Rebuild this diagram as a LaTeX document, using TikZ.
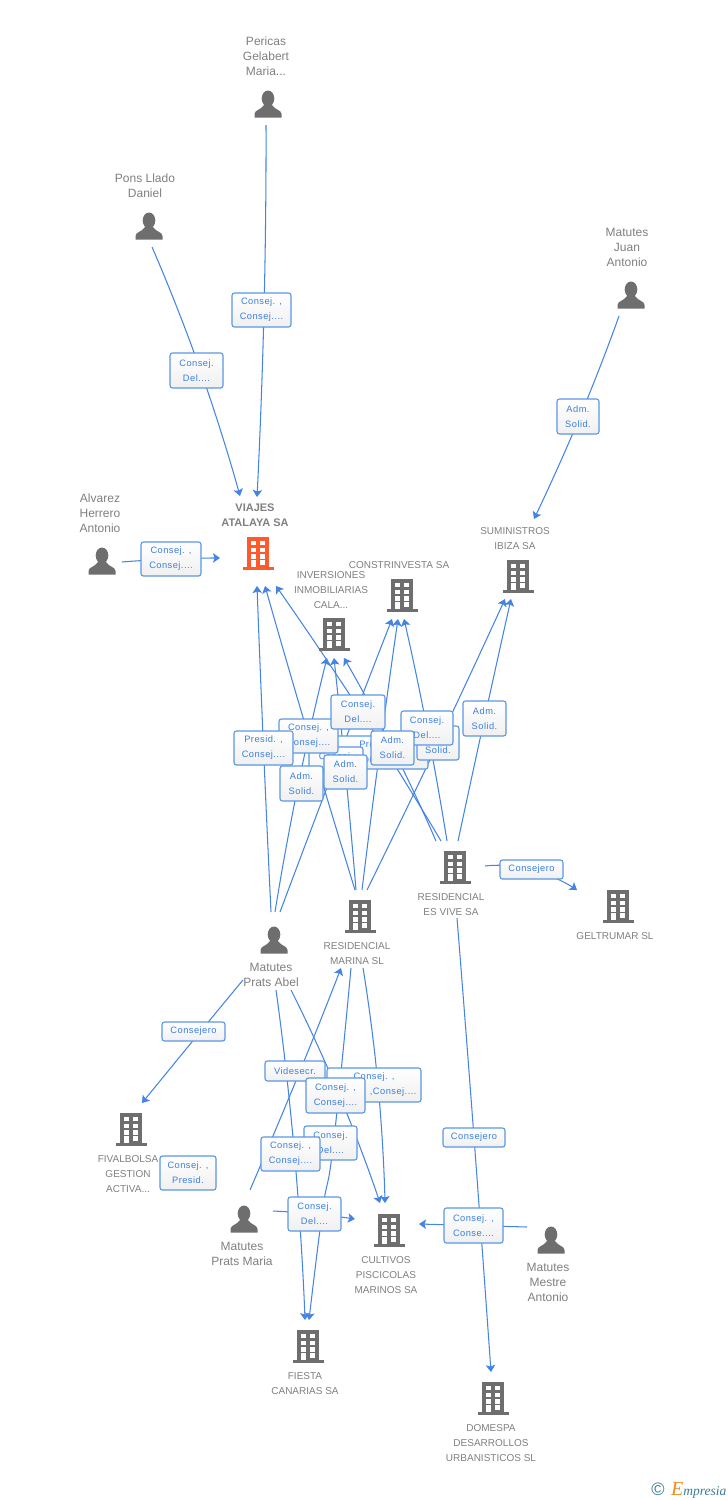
\documentclass[tikz,border=0pt]{standalone}
\usepackage{fontspec}
\setmainfont{Liberation Sans}
\newfontfamily\edgefont[LetterSpace=5]{Liberation Sans}
\newfontfamily\logofont{Liberation Serif}
\usetikzlibrary{arrows.meta,calc}
\pgfdeclarelayer{edges}
\pgfsetlayers{edges,main}
\definecolor{iconGray}{HTML}{6E6E6E}
\definecolor{textGray}{HTML}{808080}
\definecolor{edgeBlue}{HTML}{4485E4}
\definecolor{boxBlue}{HTML}{5C97E4}
\definecolor{labelBlue}{HTML}{3B7FE0}
\definecolor{accent}{HTML}{FF5A2B}
\definecolor{logoTeal}{HTML}{3A7C98}
\definecolor{logoOrange}{HTML}{F08A1E}
\tikzset{
  x=1pt,y=-1pt,
  pics/bldg/.style={code={
    \fill[#1] (-11,-16.5) rectangle (11,14.5);
    \fill[#1] (-15.5,14) rectangle (15.5,16.5);
    \foreach \yy/\hh in {-12.5/4.5,-5.5/4.5,1/4.5}{
      \fill[white] (-7,\yy) rectangle ++(5,\hh);
      \fill[white] (2,\yy) rectangle ++(5,\hh);
    }
    \fill[white] (-7,7) rectangle (-2,14);
    \fill[white] (2,7) rectangle (7,11.5);
  }},
  pics/bldg/.default=iconGray,
  pics/prsn/.style={code={
    \fill[iconGray] (0,-5.5) ellipse (6.3 and 8);
    \fill[iconGray] (-13.5,13.5) -- (-13.5,10) .. controls (-13.5,6) and (-7,6) .. (-4,1)
      -- (4,1) .. controls (7,6) and (13.5,6) .. (13.5,10) -- (13.5,13.5) -- cycle;
  }},
  namelbl/.style={text=textGray,font=\fontsize{12}{15}\selectfont,align=center,inner sep=0pt,anchor=north,yshift=-3.5pt},
  firmlbl/.style={text=textGray,font=\fontsize{10}{15}\selectfont,align=center,inner sep=0pt,anchor=north,yshift=-5pt},
  mainlbl/.style={text=textGray,font=\fontsize{11}{15}\selectfont\bfseries,align=center,inner sep=0pt,anchor=north,yshift=-4pt},
  rolebox/.style={draw=boxBlue,line width=1.1pt,rounded corners=2.5pt,top color=white,bottom color=black!6,
    text=labelBlue,font=\edgefont\fontsize{9.3}{15}\selectfont,align=center,inner sep=0pt},
  link/.style={draw=edgeBlue,line width=1.05pt,-{Stealth[length=7pt,width=9.5pt,inset=1.5pt]}},
}
\newcommand{\rolenode}[6]{% name, x0, y0, x1, y1, text
  \node[rolebox,minimum width={#4-#2},minimum height={#5-#3}] (#1) at ({(#2+#4)/2},{(#3+#5)/2}) {#6};}
\newcommand{\linkvia}[3]{% start, via, end
  \draw[link] plot[smooth,tension=1] coordinates {(#1) (#2) (#3)};}
\newcommand{\linkviab}[4]{%
  \draw[link] plot[smooth,tension=.8] coordinates {(#1) (#2) (#3) (#4)};}
\begin{document}
\begin{tikzpicture}
\begin{pgfonlayer}{edges}
  \fill[white] (0,0) rectangle (728,1500);
\end{pgfonlayer}
\useasboundingbox (0,0) rectangle (728,1500);

% icons
\pic at (268,104) {prsn};
\pic at (149,226) {prsn};
\pic at (631,295) {prsn};
\pic at (102,561) {prsn};
\pic at (274,940) {prsn};
\pic at (244,1219) {prsn};
\pic at (551,1240) {prsn};
\pic at (258,553) {bldg=accent};
\pic at (518,576) {bldg};
\pic at (402,595) {bldg};
\pic at (334,634) {bldg};
\pic at (455,867) {bldg};
\pic at (618,906) {bldg};
\pic at (360,916) {bldg};
\pic at (131,1129) {bldg};
\pic at (389,1230) {bldg};
\pic at (308,1346) {bldg};
\pic at (493,1398) {bldg};

% names
\node[namelbl] (nPericas) at (266,33.5) {Pericas\\Gelabert\\Maria...};
\node[namelbl] (nPons) at (145,170.5) {Pons Llado\\Daniel};
\node[namelbl] (nJuan) at (627,224.5) {Matutes\\Juan\\Antonio};
\node[namelbl] (nAlvarez) at (100,490.5) {Alvarez\\Herrero\\Antonio};
\node[mainlbl] (nViajes) at (255,499.5) {VIAJES\\ATALAYA SA};
\node[firmlbl] (nSumin) at (515,522.5) {SUMINISTROS\\IBIZA SA};
\node[firmlbl] (nConstr) at (399,556.5) {CONSTRINVESTA SA};
\node[firmlbl] (nInver) at (331,566.5) {INVERSIONES\\INMOBILIARIAS\\CALA...};
\node[firmlbl] (nVive) at (451,888.5) {RESIDENCIAL\\ES VIVE SA};
\node[firmlbl] (nGelt) at (615,927.5) {GELTRUMAR SL};
\node[firmlbl] (nMarina) at (357,937.5) {RESIDENCIAL\\MARINA SL};
\node[namelbl] (nAbel) at (271,959.5) {Matutes\\Prats Abel};
\node[firmlbl] (nFival) at (128,1150.5) {FIVALBOLSA\\GESTION\\ACTIVA...};
\node[namelbl] (nMaria) at (242,1238.5) {Matutes\\Prats Maria};
\node[firmlbl] (nCult) at (386,1251.5) {CULTIVOS\\PISCICOLAS\\MARINOS SA};
\node[namelbl] (nMestre) at (548,1259.5) {Matutes\\Mestre\\Antonio};
\node[firmlbl] (nFiesta) at (305,1367.5) {FIESTA\\CANARIAS SA};
\node[firmlbl] (nDomespa) at (491,1419.5) {DOMESPA\\DESARROLLOS\\URBANISTICOS SL};

% role boxes, back to front
\rolenode{rPeri}{232}{293}{291}{327}{Consej. ,\\Consej....}
\rolenode{rPons}{170}{353}{223}{388}{Consej.\\Del....}
\rolenode{rJuan}{557}{399}{599}{434}{Adm.\\Solid.}
\rolenode{rAlv}{141}{542}{201}{576}{Consej. ,\\Consej....}
\rolenode{rPres}{329}{736}{428}{769}{Presid. ,\\Consej....}
\rolenode{rHid}{309}{747}{363}{781}{Consej.\\Del....}
\rolenode{rSol}{417}{726}{459}{760}{Adm.\\Solid.}
\rolenode{rCC}{279}{719}{338}{753}{Consej. ,\\Consej....}
\rolenode{rDelA}{331}{695}{385}{729}{Consej.\\Del....}
\rolenode{rDelB}{401}{711}{453}{745}{Consej.\\Del....}
\rolenode{rAdmC}{371}{731}{414}{765}{Adm.\\Solid.}
\rolenode{rAdmB}{324}{755}{367}{789}{Adm.\\Solid.}
\rolenode{rAdmA}{280}{766}{323}{801}{Adm.\\Solid.}
\rolenode{rPresA}{234}{731}{293}{765}{Presid. ,\\Consej....}
\rolenode{rAdmD}{463}{701}{506}{736}{Adm.\\Solid.}
\rolenode{rGelt}{500}{860}{563}{879}{Consejero}
\rolenode{rFival}{162}{1022}{225}{1041}{Consejero}
\rolenode{rVide}{265}{1061}{325}{1081}{Videsecr.}
\rolenode{rWide}{327}{1068}{421}{1102}{Consej. ,\\Consej. ,Consej....}
\rolenode{rCCb}{306}{1078}{365}{1113}{Consej. ,\\Consej....}
\rolenode{rDom}{443}{1128}{505}{1147}{Consejero}
\rolenode{rDelC}{304}{1126}{357}{1160}{Consej.\\Del....}
\rolenode{rCCc}{261}{1137}{320}{1171}{Consej. ,\\Consej....}
\rolenode{rPresF}{160}{1156}{216}{1190}{Consej. ,\\Presid.}
\rolenode{rDelD}{288}{1197}{341}{1231}{Consej.\\Del....}
\rolenode{rMes}{444}{1208}{503}{1243}{Consej. ,\\Conse....}

% connector ends
\coordinate (sPeri) at (266,125);   \coordinate (tPeri) at (257,497);
\coordinate (sPons) at (152,247);   \coordinate (tPons) at (240,496);
\coordinate (sJuan) at (619,316);   \coordinate (tJuan) at (534,519);
\coordinate (sAlv) at (122,562);    \coordinate (tAlv) at (220,558);
\coordinate (tV1) at (257,586);  \coordinate (tV2) at (265,586);  \coordinate (tV3) at (276,586);
\coordinate (tI1) at (327,658);  \coordinate (tI2) at (334,658);  \coordinate (tI3) at (344,658);
\coordinate (tC1) at (392,619);  \coordinate (tC2) at (398,619);  \coordinate (tC3) at (404,619);
\coordinate (tS1) at (505,599);  \coordinate (tS2) at (511,599);
\coordinate (sA1) at (271,912);  \coordinate (sA2) at (275,912);  \coordinate (sA3) at (280,912);
\coordinate (sM1) at (355,890);  \coordinate (sM2) at (356,890);  \coordinate (sM3) at (362,890);  \coordinate (sM4) at (367,890);
\coordinate (sE1) at (441,841);  \coordinate (sE2) at (436,841);  \coordinate (sE3) at (447,841);  \coordinate (sE4) at (458,841);
\coordinate (sE5) at (485,866);  \coordinate (tGelt) at (577,890);
\coordinate (sE6) at (457,918);  \coordinate (tDom) at (491,1372);
\coordinate (sA4) at (243,980);  \coordinate (tFival) at (142,1103);
\coordinate (sA5) at (276,990);  \coordinate (sA6) at (291,990);
\coordinate (tF1) at (305,1320); \coordinate (tF2) at (309,1320);
\coordinate (tC5) at (380,1203); \coordinate (tC6) at (385,1203);
\coordinate (sMa1) at (250,1190); \coordinate (tMar) at (341,968);
\coordinate (sMa2) at (273,1211); \coordinate (tC7) at (355,1219);
\coordinate (sMe) at (527,1227);  \coordinate (tC8) at (419,1224);
\coordinate (sM5) at (351,968);  \coordinate (sM6) at (363,968);
% points where a connector passes its box off centre
\coordinate (wPeri) at ($(rPeri.center)+(2.5,0)$);
\coordinate (wPons) at ($(rPons.center)+(4,0)$);
\coordinate (wJuan) at ($(rJuan.center)+(2,0)$);
\coordinate (wFival) at ($(rFival.center)+(7,0)$);
\coordinate (wVide) at ($(rVide.center)+(5,0)$);
\coordinate (wCCc) at ($(rCCc.center)+(4,0)$);
\coordinate (wCCb) at ($(rCCb.center)+(4,0)$);
\coordinate (wWide) at ($(rWide.center)+(4,0)$);
\coordinate (wDelC) at ($(rDelC.center)+(3,0)$);
\coordinate (wDelD) at ($(rDelD.center)+(8,-3)$);
\coordinate (wAdmA) at ($(rAdmA.center)+(-3,0)$);
\coordinate (wDelA) at ($(rDelA.center)+(3,0)$);
\coordinate (wPres) at ($(rPres.center)+(1,0)$);

\begin{pgfonlayer}{edges}
  \linkvia{sPeri}{wPeri}{tPeri}
  \linkvia{sPons}{wPons}{tPons}
  \linkvia{sJuan}{wJuan}{tJuan}
  \linkvia{sAlv}{rAlv.center}{tAlv}
  \linkvia{sA1}{rPresA.center}{tV1}
  \linkvia{sA2}{wAdmA}{tI1}
  \linkvia{sA3}{rHid.center}{tC1}
  \linkvia{sM1}{rCC.center}{tV2}
  \linkvia{sM2}{rAdmB.center}{tI2}
  \linkvia{sM3}{wPres}{tC2}
  \linkvia{sM4}{rSol.center}{tS1}
  \linkvia{sE1}{wDelA}{tV3}
  \linkvia{sE2}{rAdmC.center}{tI3}
  \linkvia{sE3}{rDelB.center}{tC3}
  \linkvia{sE4}{rAdmD.center}{tS2}
  \linkvia{sE5}{rGelt.center}{tGelt}
  \linkvia{sE6}{rDom.center}{tDom}
  \linkvia{sA4}{wFival}{tFival}
  \linkvia{sA5}{wCCc}{tF1}
  \linkvia{sA6}{wCCb}{tC5}
  \linkviab{sM5}{wDelC}{wDelD}{tF2}
  \linkvia{sM6}{wWide}{tC6}
  \linkvia{sMa1}{wVide}{tMar}
  \linkvia{sMa2}{rDelD.center}{tC7}
  \linkvia{sMe}{rMes.center}{tC8}
\end{pgfonlayer}

% logo
\node[inner sep=0pt,text=logoTeal,font=\fontsize{18}{18}\selectfont] (logoC) at (658,1489) {©};
\node[inner sep=0pt,anchor=west,font=\logofont\itshape\fontsize{13.5}{13.5}\selectfont,text=logoTeal] (logoT) at (671,1490)
  {{\color{logoOrange}\fontsize{20}{20}\selectfont E}mpresia};
\end{tikzpicture}
\end{document}
